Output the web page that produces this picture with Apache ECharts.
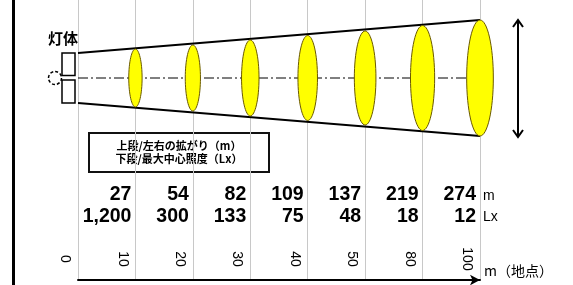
<!DOCTYPE html>
<html><head><meta charset="utf-8">
<script src="https://cdn.jsdelivr.net/npm/echarts@6/dist/echarts.min.js"></script>
<style>html,body{margin:0;padding:0;background:#fff;overflow:hidden}#c{width:573px;height:285px}</style>
</head><body><div id="c"></div>
<script>
// distance points (m)
const distanceLabels = ['0', '10', '20', '30', '40', '50', '80', '100'];
// upper row: left-right spread (m) at points 10..100
const spreadM = [27, 54, 82, 109, 137, 219, 274];
// lower row: max center illuminance (Lx) at points 10..100
const centerLux = [1200, 300, 133, 75, 48, 18, 12];
// schematic beam half-height drawn at each point (diagram units)
const beamHalf = [25, 29, 33, 38, 42.5, 47, 52.5, 58];

const JP = '"Noto Sans CJK JP", sans-serif';
const NUM = '"Liberation Sans Narrow", "Arial Narrow", "Liberation Sans", sans-serif';

const chart = echarts.init(document.getElementById('c'), null, {renderer: 'canvas'});
const last = beamHalf.length - 1;

chart.setOption({
  animation: false,
  backgroundColor: '#fff',
  grid: {left: 78, right: 93, top: 0, bottom: 5},
  xAxis: [
    {
      type: 'category', data: distanceLabels, boundaryGap: false, position: 'bottom',
      axisLine: {show: true, onZero: false, lineStyle: {color: '#000', width: 2}, symbol: ['none', 'arrow'], symbolSize: [8, 10]},
      axisTick: {show: false}, axisLabel: {show: false},
      splitLine: {show: true, lineStyle: {color: '#c8c8c8', width: 1}},
      name: 'm（地点）', nameLocation: 'end', nameGap: 4,
      nameTextStyle: {fontFamily: JP, fontSize: 14, color: '#000', verticalAlign: 'bottom', padding: [0, 0, 2, 0]}
    },
    {
      type: 'category', data: distanceLabels, boundaryGap: false, position: 'bottom', offset: -29,
      axisLine: {show: false, onZero: false}, axisTick: {show: false}, splitLine: {show: false},
      axisLabel: {rotate: -90, margin: 8, interval: 0, align: 'center', verticalAlign: 'top',
        padding: [6, 0, 0, 0], lineHeight: 14, fontSize: 14, color: '#000', fontFamily: '"Liberation Sans", sans-serif'}
    }
  ],
  yAxis: {type: 'value', min: -202, max: 78, show: false},
  graphic: [
    {type: 'rect', left: 12, top: 0, shape: {x: 0, y: 0, width: 3, height: 285}, style: {fill: '#000'}},
    {type: 'text', left: -4, top: 259, style: {text: ')', font: '14px "Liberation Sans"', fill: '#000'}},
    {
      type: 'group', left: 88, top: 132,
      children: [
        {type: 'rect', shape: {x: 0, y: 0, width: 180, height: 39}, style: {fill: '#fff', stroke: '#111', lineWidth: 2}},
        {type: 'text', style: {text: '上段/左右の拡がり（m）', x: 90, y: 13, align: 'center', verticalAlign: 'middle', font: 'bold 11px ' + JP, fill: '#000'}},
        {type: 'text', style: {text: '下段/最大中心照度（Lx）', x: 90, y: 26, align: 'center', verticalAlign: 'middle', font: 'bold 11px ' + JP, fill: '#000'}}
      ]
    }
  ],
  series: [
    {
      type: 'line', data: [[0, 0], [last, 0]], symbol: 'none', z: 2,
      lineStyle: {color: '#000', width: 1, type: [10, 3, 2, 3]}
    },
    {
      type: 'line', data: [[0, beamHalf[0]], [last, beamHalf[last]]], symbol: 'none', z: 3,
      lineStyle: {color: '#000', width: 2}
    },
    {
      type: 'line', data: [[0, -beamHalf[0]], [last, -beamHalf[last]]], symbol: 'none', z: 3,
      lineStyle: {color: '#000', width: 2}
    },
    {
      type: 'custom', z: 4, data: [[0, beamHalf[0]]],
      renderItem: function (params, api) {
        const c = api.coord([0, 0]);
        const t = api.coord([0, api.value(1)]);
        const h = c[1] - t[1];
        return {type: 'group', children: [
          {type: 'circle', shape: {cx: c[0] - 23, cy: c[1], r: 6.5}, style: {fill: '#fff', stroke: '#000', lineWidth: 1.5, lineDash: [3, 2]}},
          {type: 'rect', shape: {x: c[0] - 16, y: c[1] - h, width: 13, height: h - 2.5}, style: {fill: '#fff', stroke: '#000', lineWidth: 1.5}},
          {type: 'rect', shape: {x: c[0] - 16, y: c[1] + 2, width: 13, height: h - 2}, style: {fill: '#fff', stroke: '#000', lineWidth: 1.5}},
          {type: 'text', style: {text: '灯体', x: c[0] - 15, y: c[1] - 40, align: 'center', verticalAlign: 'middle', font: 'bold 15px ' + JP, fill: '#000'}}
        ]};
      }
    },
    {
      type: 'custom', z: 5,
      data: beamHalf.slice(1).map(function (r, i) { return [i + 1, r]; }),
      renderItem: function (params, api) {
        const i = api.value(0), r = api.value(1);
        const c = api.coord([i, 0]);
        const t = api.coord([i, r]);
        const ry = c[1] - t[1], rx = ry * 0.23;
        const ch = [{type: 'ellipse', shape: {cx: c[0], cy: c[1], rx: rx, ry: ry}, style: {fill: '#ffff00', stroke: '#6b5a00', lineWidth: 1}}];
        if (i === last) {
          const ax = c[0] + 38, y0 = c[1] - ry, y1 = c[1] + ry + 1;
          ch.push({type: 'line', shape: {x1: ax, y1: y0, x2: ax, y2: y1}, style: {stroke: '#000', lineWidth: 2}});
          ch.push({type: 'polyline', shape: {points: [[ax - 5, y0 + 7], [ax, y0], [ax + 5, y0 + 7]]}, style: {stroke: '#000', lineWidth: 2, fill: null}});
          ch.push({type: 'polyline', shape: {points: [[ax - 5, y1 - 7], [ax, y1], [ax + 5, y1 - 7]]}, style: {stroke: '#000', lineWidth: 2, fill: null}});
        }
        return {type: 'group', children: ch};
      }
    },
    {
      type: 'custom', z: 6,
      data: spreadM.map(function (v, i) { return [i + 1, v, centerLux[i]]; }),
      renderItem: function (params, api) {
        const i = api.value(0);
        const c = api.coord([i, 0]);
        const x = c[0] - 4;
        const f = 'bold 19.5px ' + NUM;
        const ch = [
          {type: 'text', style: {text: String(api.value(1)), x: x, y: c[1] + 116.5, align: 'right', verticalAlign: 'middle', font: f, fill: '#000'}},
          {type: 'text', style: {text: api.value(2).toLocaleString('en-US'), x: x, y: c[1] + 138.5, align: 'right', verticalAlign: 'middle', font: f, fill: '#000'}}
        ];
        if (i === last) {
          ch.push({type: 'text', style: {text: 'm', x: c[0] + 3, y: c[1] + 118, align: 'left', verticalAlign: 'middle', font: '14px "Liberation Sans"', fill: '#000'}});
          ch.push({type: 'text', style: {text: 'Lx', x: c[0] + 3, y: c[1] + 139, align: 'left', verticalAlign: 'middle', font: '14px "Liberation Sans"', fill: '#000'}});
        }
        return {type: 'group', children: ch};
      }
    }
  ]
});
</script>
</body></html>
